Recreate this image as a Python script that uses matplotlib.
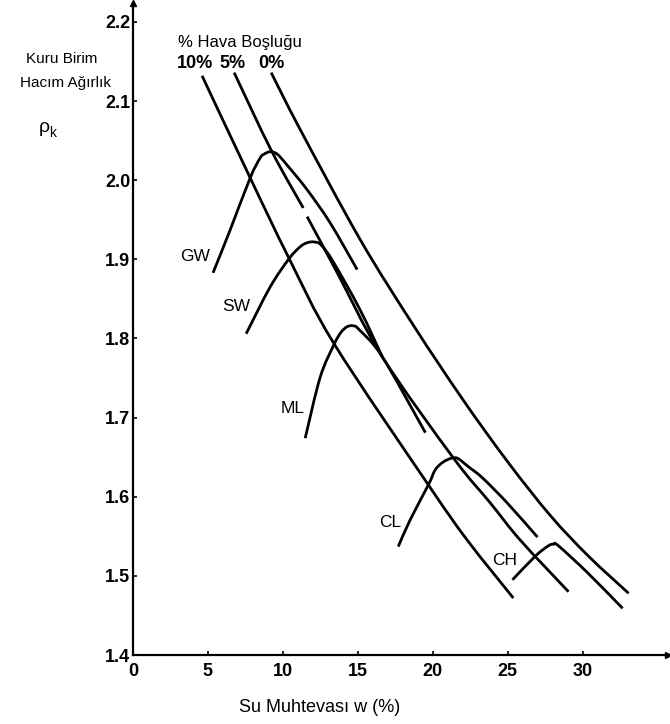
import matplotlib
matplotlib.use("Agg")
import matplotlib.pyplot as plt
from matplotlib.path import Path
from matplotlib.patches import PathPatch

plt.rcParams['font.family'] = ['Liberation Sans', 'DejaVu Sans']

W, H = 670, 724

# Air-void (saturation) lines: water content w (%) and dry unit weight
void0_w = [9.22, 11.16, 15.16, 18.70, 22.04, 25.05, 27.86, 30.39, 33.07]
void0_rho = [2.136, 2.064, 1.925, 1.817, 1.722, 1.643, 1.576, 1.525, 1.478]

void5a_w = [6.75, 9.22, 11.36]
void5a_rho = [2.136, 2.038, 1.965]
void5b_w = [11.62, 13.63, 16.63, 21.38, 23.85, 25.85, 29.06]
void5b_rho = [1.954, 1.883, 1.777, 1.649, 1.592, 1.545, 1.480]

void10_w = [4.61, 7.82, 10.42, 13.43, 19.71, 22.31, 25.38]
void10_rho = [2.132, 2.003, 1.901, 1.793, 1.615, 1.545, 1.472]

# Compaction curves per soil group
gw_w = [5.34, 6.48, 7.82, 8.48, 8.75, 9.15, 9.62, 10.29, 11.62, 13.16, 14.96]
gw_rho = [1.883, 1.937, 2.003, 2.028, 2.033, 2.036, 2.033, 2.019, 1.988, 1.946, 1.887]

sw_w = [7.55, 9.15, 10.42, 11.16, 11.62, 12.09, 12.56, 13.36, 15.16, 16.63]
sw_rho = [1.806, 1.865, 1.901, 1.916, 1.921, 1.922, 1.918, 1.897, 1.836, 1.777]

ml_w = [11.49, 12.49, 13.43, 13.89, 14.30, 14.70, 15.10, 16.63, 19.51]
ml_rho = [1.674, 1.751, 1.793, 1.808, 1.815, 1.816, 1.811, 1.777, 1.681]

cl_w = [17.70, 18.50, 19.71, 20.17, 20.71, 21.31, 21.71, 22.38, 23.31, 24.98, 26.99]
cl_rho = [1.537, 1.571, 1.615, 1.634, 1.644, 1.649, 1.648, 1.638, 1.624, 1.592, 1.549]

ch_w = [25.32, 26.85, 27.72, 28.06, 28.39, 30.33, 32.67]
ch_rho = [1.495, 1.525, 1.538, 1.540, 1.538, 1.504, 1.459]

curve_labels = ["GW", "SW", "ML", "CL", "CH"]
label_w = [4.14, 6.88, 10.62, 17.17, 24.78]
label_rho = [1.903, 1.840, 1.712, 1.568, 1.520]

x_ticks = [0, 5, 10, 15, 20, 25, 30]
y_ticks = [1.4, 1.5, 1.6, 1.7, 1.8, 1.9, 2.0, 2.1, 2.2]
void_labels = ["10%", "5%", "0%"]

fig = plt.figure(figsize=(W / 100, H / 100), dpi=100)
fig.patch.set_facecolor("white")


def fpos(x, y):
    return x / W, 1 - y / H


def smooth_curve(xs, ys):
    """Catmull-Rom curve through the given points, as cubic Bezier segments."""
    pts = list(zip(xs, ys))
    n = len(pts)
    verts = [pts[0]]
    codes = [Path.MOVETO]
    for i in range(n - 1):
        p0 = pts[i - 1] if i > 0 else pts[i]
        p1 = pts[i]
        p2 = pts[i + 1]
        p3 = pts[i + 2] if i + 2 < n else pts[i + 1]
        c1 = (p1[0] + (p2[0] - p0[0]) / 6, p1[1] + (p2[1] - p0[1]) / 6)
        c2 = (p2[0] - (p3[0] - p1[0]) / 6, p2[1] - (p3[1] - p1[1]) / 6)
        verts += [c1, c2, p2]
        codes += [Path.CURVE4] * 3
    return Path(verts, codes)


ax = fig.add_axes([133 / W, (H - 655) / H, 535 / W, 652 / H])
ax.set_xlim(0, 35.7)
ax.set_ylim(1.4, 2.224)

series = [
    (void0_w, void0_rho), (void5a_w, void5a_rho), (void5b_w, void5b_rho),
    (void10_w, void10_rho), (gw_w, gw_rho), (sw_w, sw_rho), (ml_w, ml_rho),
    (cl_w, cl_rho), (ch_w, ch_rho),
]
for sx, sy in series:
    ax.add_patch(PathPatch(smooth_curve(sx, sy), fill=False, edgecolor="black",
                           lw=2.0, capstyle="butt", joinstyle="round"))

for t, lx, ly in zip(curve_labels, label_w, label_rho):
    ax.text(lx, ly, t, ha="center", va="center", fontsize=12.5)

# Axes styling: only left/bottom spines with arrow heads
for s in ["top", "right"]:
    ax.spines[s].set_visible(False)
for s in ["left", "bottom"]:
    ax.spines[s].set_linewidth(1.6)
ax.plot(1, 0, ">", color="black", ms=5, transform=ax.transAxes, clip_on=False)
ax.plot(0, 1, "^", color="black", ms=5, transform=ax.transAxes, clip_on=False)

ax.set_xticks(x_ticks)
ax.set_xticklabels([str(v) for v in x_ticks])
ax.set_yticks(y_ticks)
ax.set_yticklabels([f"{v:.1f}" for v in y_ticks])
ax.tick_params(direction="in", length=3, width=1.2, labelsize=13)
ax.tick_params(axis="x", pad=6)
ax.tick_params(axis="y", pad=2)
for lab in ax.get_xticklabels() + ax.get_yticklabels():
    lab.set_fontweight("bold")

# Axis titles
fig.text(*fpos(320, 707), "Su Muhtevası w (%)", ha="center", va="center", fontsize=13)
fig.text(*fpos(62, 59), "Kuru Birim", ha="center", va="center", fontsize=11)
fig.text(*fpos(65, 83), "Hacım Ağırlık", ha="center", va="center", fontsize=11)
fig.text(*fpos(44, 128), "ρ", ha="center", va="center", fontsize=14)
fig.text(*fpos(52.5, 133), "k", ha="center", va="center", fontsize=10)

# Air-void header
fig.text(*fpos(240, 42), "% Hava Boşluğu", ha="center", va="center", fontsize=12)
for t, x in zip(void_labels, [195, 233, 271]):
    fig.text(*fpos(x, 63), t, ha="center", va="center", fontsize=13, fontweight="bold")

fig.savefig("out.png", dpi=100, facecolor="white")
